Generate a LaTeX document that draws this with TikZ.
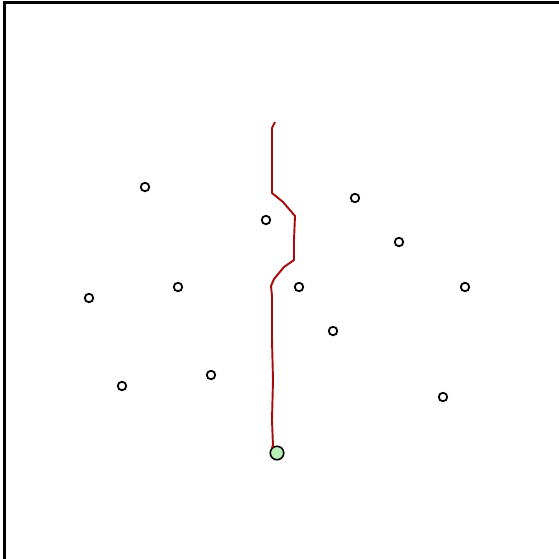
\documentclass[tikz,border=0pt]{standalone}
\definecolor{trail}{RGB}{165,12,12}
\definecolor{startfill}{RGB}{184,240,184}
\tikzset{
  site/.style={circle,draw,line width=1pt,fill=white,inner sep=0pt,minimum size=0.17cm},
  home/.style={circle,draw,line width=0.9pt,fill=startfill,inner sep=0pt,minimum size=0.27cm},
}
\begin{document}
\begin{tikzpicture}[x=0.02cm,y=-0.02cm]
  \useasboundingbox (0,0) rectangle (559,559);
  \clip (0,0) rectangle (559,559);
  \draw[line width=1.2pt] (4.5,2.5) rectangle (600,600);
  % sites
  \node[site] (s1) at (145,187) {};
  \node[site] (s2) at (266,220) {};
  \node[site] (s3) at (355,198) {};
  \node[site] (s4) at (399,242) {};
  \node[site] (s5) at (89,298) {};
  \node[site] (s6) at (178,287) {};
  \node[site] (s7) at (299,287) {};
  \node[site] (s8) at (465,287) {};
  \node[site] (s9) at (333,331) {};
  \node[site] (s10) at (122,386) {};
  \node[site] (s11) at (211,375) {};
  \node[site] (s12) at (443,397) {};
  % start and walk
  \node[home] (start) at (277,453) {};
  \coordinate (tip) at (275,122);
  \draw[trail,line width=1.1pt,line join=round] (tip) -- (272,128) -- (272,193)
    -- (283,202) -- (295,216) -- (294,240) -- (294,260) -- (284,267)
    -- (274,279) -- (271,286) -- (272,296) -- (272,340) -- (273,380)
    -- (272,420) -- (273,446) -- (start.north west);
\end{tikzpicture}
\end{document}
